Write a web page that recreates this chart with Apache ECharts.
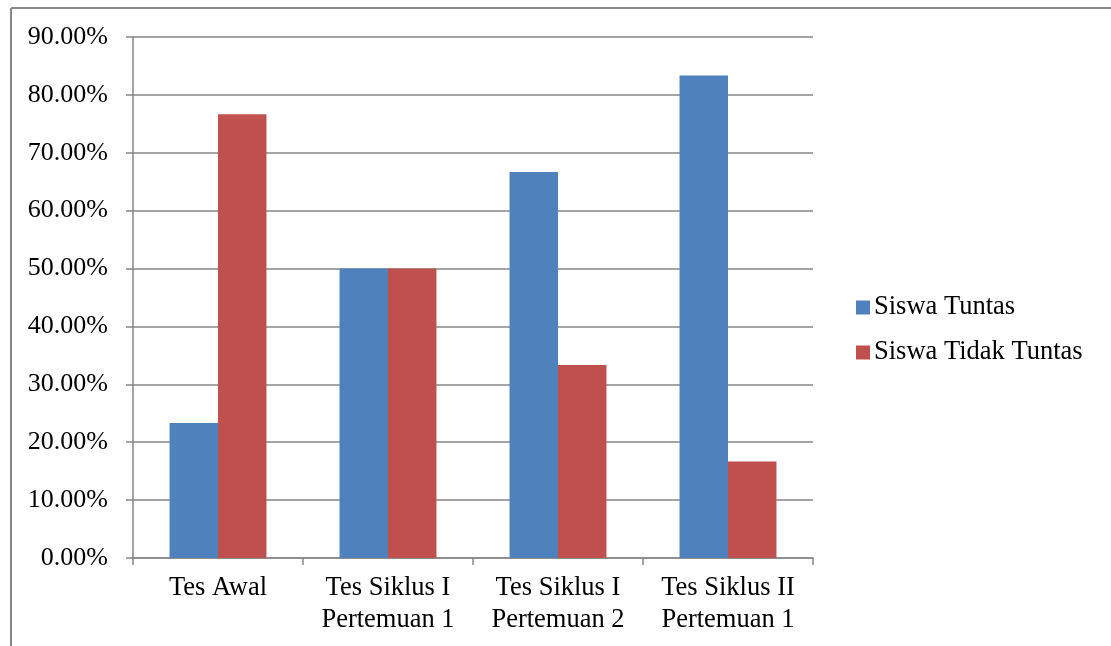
<!DOCTYPE html>
<html>
<head>
<meta charset="utf-8">
<script src="https://cdn.jsdelivr.net/npm/echarts@6/dist/echarts.min.js"></script>
<style>
  html, body { margin: 0; padding: 0; background: #fff; }
  #chart { width: 1111px; height: 646px; }
</style>
</head>
<body>
<div id="chart"></div>
<script>
// Test stages (two-line labels)
const categories = [
  'Tes Awal',
  'Tes Siklus I\nPertemuan 1',
  'Tes Siklus I\nPertemuan 2',
  'Tes Siklus II\nPertemuan 1'
];
// Percentages of students
const tuntas = [23.33, 50.00, 66.67, 83.33];
const tidakTuntas = [76.67, 50.00, 33.33, 16.67];
const seriesNames = ['Siswa Tuntas', 'Siswa Tidak Tuntas'];

const FONT = '"Liberation Serif", "Times New Roman", serif';
const LINE = '#868686';

const chart = echarts.init(document.getElementById('chart'), null, { renderer: 'canvas' });
chart.setOption({
  animation: false,
  backgroundColor: '#ffffff',
  textStyle: { fontFamily: FONT },
  grid: { left: 133, right: 298, top: 37, bottom: 88, containLabel: false },
  legend: {
    orient: 'vertical',
    left: 851,
    top: 289,
    itemWidth: 14,
    itemHeight: 14,
    itemGap: 18,
    icon: 'rect',
    textStyle: { fontFamily: FONT, fontSize: 26.5, color: '#000', padding: [0, 0, 0, -1] },
    data: seriesNames
  },
  xAxis: {
    type: 'category',
    data: categories,
    axisLine: { lineStyle: { color: LINE, width: 1.5 } },
    axisTick: { show: true, length: 7, lineStyle: { color: LINE, width: 1.5 } },
    axisLabel: {
      color: '#000', fontFamily: FONT, fontSize: 26.5, lineHeight: 32, margin: 14,
      interval: 0, hideOverlap: false
    }
  },
  yAxis: {
    type: 'value',
    min: 0,
    max: 90,
    interval: 10,
    axisLine: { show: true, lineStyle: { color: LINE, width: 1.5 } },
    axisTick: { show: true, length: 7, lineStyle: { color: LINE, width: 1.5 } },
    splitLine: { lineStyle: { color: LINE, width: 1.5 } },
    axisLabel: {
      color: '#000', fontFamily: FONT, fontSize: 26, margin: 25,
      formatter: v => v.toFixed(2) + '%'
    }
  },
  series: [
    {
      name: seriesNames[0], type: 'bar', data: tuntas,
      itemStyle: { color: '#4F81BD' },
      barGap: '0%', barCategoryGap: '43%'
    },
    {
      name: seriesNames[1], type: 'bar', data: tidakTuntas,
      itemStyle: { color: '#C0504D' },
      barGap: '0%', barCategoryGap: '43%'
    }
  ],
  graphic: [
    // outer frame: top and left edges
    { type: 'line', shape: { x1: 11, y1: 8, x2: 1111, y2: 8 }, style: { stroke: '#898989', lineWidth: 2 } },
    { type: 'line', shape: { x1: 11, y1: 8, x2: 11, y2: 646 }, style: { stroke: '#898989', lineWidth: 2 } }
  ]
});
</script>
</body>
</html>
